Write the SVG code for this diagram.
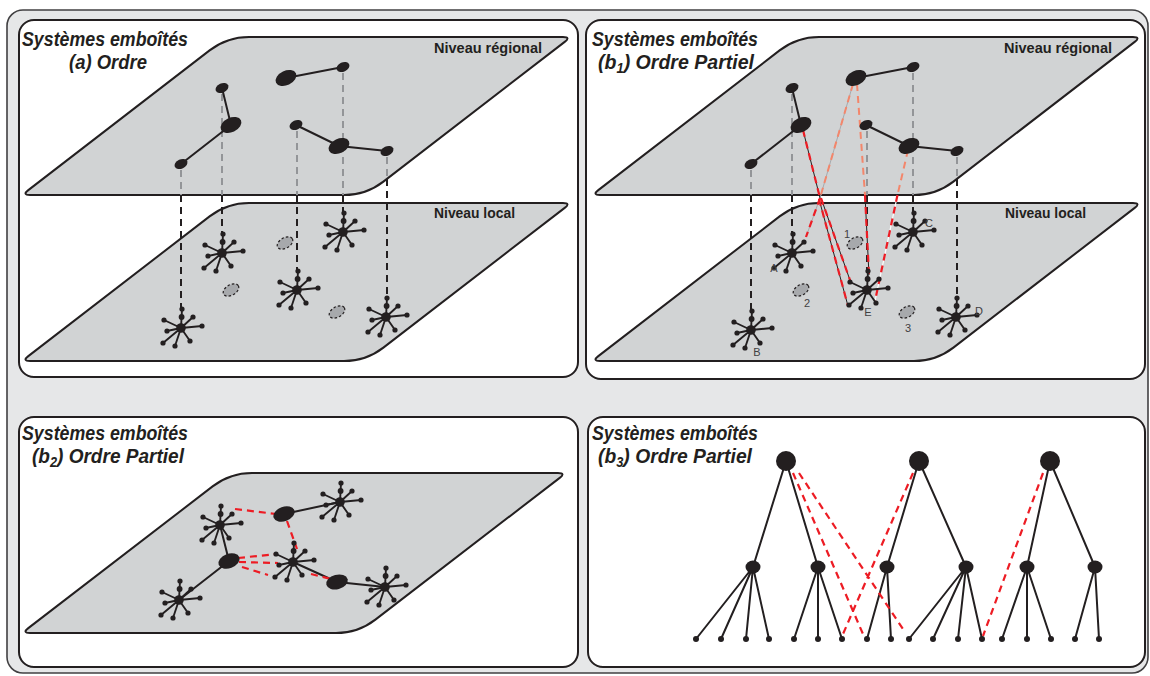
<svg xmlns="http://www.w3.org/2000/svg" width="1150" height="676" viewBox="0 0 1150 676">
<style>
.title{font-family:"Liberation Sans",Arial,sans-serif;font-weight:bold;font-style:italic;font-size:21px;fill:#231f20}
.lvl{font-family:"Liberation Sans",Arial,sans-serif;font-weight:bold;font-size:14px;fill:#231f20}
.lab{font-family:"Liberation Sans",Arial,sans-serif;font-size:11px;fill:#414042;text-anchor:middle}
.panel{fill:#fff;stroke:#231f20;stroke-width:2}
.plane{fill:#d1d3d4;stroke:#231f20;stroke-width:2;stroke-linejoin:round}
.edge{stroke:#231f20;stroke-width:2;fill:none;stroke-linecap:round}
.dk{stroke:#231f20;stroke-width:2;stroke-dasharray:7 5;fill:none}
.gr{stroke:#939598;stroke-width:2;stroke-dasharray:7 5;fill:none}
.red{stroke:#ed1c24;stroke-width:2.2;stroke-dasharray:7 5;fill:none}
.sal{stroke:#f3866b;stroke-width:2;stroke-dasharray:7 5;fill:none}
.thin{stroke:#231f20;stroke-width:1;fill:none}
.thing{stroke:#a7a9ac;stroke-width:1;fill:none}
.thinw{stroke:#fff;stroke-width:1.2;fill:none}
.node{fill:#231f20}
.empty{fill:#a7a9ac;stroke:#231f20;stroke-width:1.2;stroke-dasharray:2.5 2}
</style>
<defs>
<path id="plane" d="M8,158 Q0,158 6.3,153.1 L187.6,13.4 Q205,0 227,0 L541,0 Q549,0 542.7,4.9 L361.4,144.6 Q344,158 322,158 Z"/>
<path id="planeB" d="M8,160 Q0,160 6.3,155.1 L190.6,13.4 Q208,0 230,0 L536,0 Q544,0 537.7,4.9 L353.4,146.6 Q336,160 314,160 Z"/>
<g id="star" fill="#231f20">
<path d="M0,0L-17,-8M0,0L-14,3M0,0L-18,15M0,0L-6,18M0,0L9,13M0,0L21,-2M0,0L12,-11M0,0L1,-19" stroke="#231f20" stroke-width="1.9" fill="none"/>
<circle r="4.8"/>
<circle cx="-17" cy="-8" r="2.6"/><circle cx="-14" cy="3" r="2.6"/><circle cx="-18" cy="15" r="2.6"/><circle cx="-6" cy="18" r="2.6"/>
<circle cx="9" cy="13" r="2.6"/><circle cx="21" cy="-2" r="2.6"/><circle cx="12" cy="-11" r="2.6"/><circle cx="1" cy="-19" r="2.6"/>
<circle cx="0.6" cy="-11" r="2.9"/>
</g>
<ellipse id="sn" rx="6.8" ry="4.6" transform="rotate(-25)"/>
<ellipse id="bn" rx="11" ry="7.2" transform="rotate(-25)"/>
<ellipse id="ep" class="empty" rx="8.5" ry="5.2" transform="rotate(-30)"/>
</defs>

<rect x="7" y="10" width="1141" height="663" rx="16" fill="#e6e7e8" stroke="#414042" stroke-width="1.6"/>

<!-- panels -->
<g id="panel-a">
<rect class="panel" x="19" y="20" width="559" height="357" rx="15"/>
<use href="#plane" class="plane" transform="translate(22,203)"/>
<use href="#plane" class="plane" transform="translate(22,37)"/>
<text class="lvl" x="434" y="53" textLength="108" lengthAdjust="spacingAndGlyphs">Niveau régional</text>
<text class="lvl" x="434" y="218" textLength="81" lengthAdjust="spacingAndGlyphs">Niveau local</text>
<text class="title" x="22" y="46" textLength="166" lengthAdjust="spacingAndGlyphs">Systèmes emboîtés</text>
<text class="title" x="69" y="69" textLength="78" lengthAdjust="spacingAndGlyphs">(a) Ordre</text>
</g>
<g id="panel-b1">
<rect class="panel" x="586" y="20" width="559" height="359" rx="15"/>
<use href="#plane" class="plane" transform="translate(592,203)"/>
<use href="#plane" class="plane" transform="translate(592,37)"/>
<text class="lvl" x="1004" y="53" textLength="108" lengthAdjust="spacingAndGlyphs">Niveau régional</text>
<text class="lvl" x="1005" y="218" textLength="81" lengthAdjust="spacingAndGlyphs">Niveau local</text>
<text class="title" x="592" y="46" textLength="166" lengthAdjust="spacingAndGlyphs">Systèmes emboîtés</text>
<text class="title" x="598" y="69" textLength="156" lengthAdjust="spacingAndGlyphs">(b<tspan font-size="14" dy="4">1</tspan><tspan dy="-4">) Ordre Partiel</tspan></text>
</g>
<g id="panel-b2">
<rect class="panel" x="19" y="417" width="559" height="250" rx="15"/>
<use href="#planeB" class="plane" transform="translate(22,473)"/>
<text class="title" x="22" y="440" textLength="166" lengthAdjust="spacingAndGlyphs">Systèmes emboîtés</text>
<text class="title" x="32" y="463" textLength="152" lengthAdjust="spacingAndGlyphs">(b<tspan font-size="14" dy="4">2</tspan><tspan dy="-4">) Ordre Partiel</tspan></text>
</g>
<g id="panel-b3">
<rect class="panel" x="588" y="417" width="557" height="250" rx="15"/>
<text class="title" x="592" y="440" textLength="166" lengthAdjust="spacingAndGlyphs">Systèmes emboîtés</text>
<text class="title" x="598" y="463" textLength="154" lengthAdjust="spacingAndGlyphs">(b<tspan font-size="14" dy="4">3</tspan><tspan dy="-4">) Ordre Partiel</tspan></text>
</g>

<!-- connectors -->
<g id="connectors">
<!-- panel a -->
<path class="gr" d="M181,170V195M222,94V195M297,131V195M343,73V195M387,157V179"/>
<path class="dk" d="M181,195V309M222,195V234M297,195V271M343,195V213M387,179V298"/>
<path class="edge" d="M222,88L231,125M231,125L181,164M286,78L343,67M296,125L339,146M339,146L387,151"/>
<!-- panel b1 -->
<path class="gr" d="M751,170V195M792,94V195M867,131V195M913,73V195M957,157V179"/>
<path class="dk" d="M751,195V311M792,195V234M867,195V271M913,195V213M957,179V298"/>
<path class="edge" d="M792,88L801,125M801,125L751,164M856,78L913,67M866,125L909,146M909,146L957,151"/>
<path class="thing" d="M853,84L820,198M820,198L806,237"/>
<path class="sal" d="M853,84L820,198"/>
<path class="red" d="M820,198L806,237"/>
<path class="thin" d="M821,198L851,283M819,199L848,306M865,195L869,275"/>
<path class="red" d="M821,198L851,283M819,199L848,306"/>
<path class="sal" d="M857,84L865,195"/>
<path class="red" d="M865,195L869,275"/>
<path class="sal" d="M908,150L897.5,195"/>
<path class="thinw" d="M897.5,195L875,301"/>
<path class="red" d="M897.5,195L875,301"/>
<path class="thin" d="M803,130L820,198"/>
<path class="red" stroke-width="2.6" d="M803,130L820,198"/>
<!-- panel b2 -->
<path class="edge" d="M284,514L340,502M220,525L229,561M229,561L179,600M293,562L337,582M337,582L385,587"/>
<path class="red" stroke-dasharray="7 4" d="M235,509L276,514M287,521L297,549M238,558L277,554M239,562L278,563M242,567L268,575M311,574L331,579"/>
<!-- panel b3 -->
<path class="edge" d="M786,461L753,567M786,461L818,567M919,461L887,567M919,461L966,567M1050,461L1027,567M1050,461L1095,567
M753,567L696,639M753,567L721,639M753,567L746,639M753,567L769,639
M818,567L794,639M818,567L818,639M818,567L842,639
M887,567L867,639M887,567L891,639
M966,567L909,639M966,567L933,639M966,567L958,639M966,567L982,639
M1027,567L1002,639M1027,567L1027,639M1027,567L1051,639
M1095,567L1075,639M1095,567L1099,639"/>
<path class="red" stroke-dasharray="8 5" d="M793,473L863,634M799,473L905,632M913,473L843,634M1043,473L983,636"/>
</g>

<!-- panel a nodes -->
<g id="a-r1" class="node"><use href="#sn" x="222" y="88"/></g>
<g id="a-r2" class="node"><use href="#bn" x="231" y="125"/></g>
<g id="a-r3" class="node"><use href="#sn" x="181" y="164"/></g>
<g id="a-r4" class="node"><use href="#bn" x="286" y="78"/></g>
<g id="a-r5" class="node"><use href="#sn" x="343" y="67"/></g>
<g id="a-r6" class="node"><use href="#sn" x="296" y="125"/></g>
<g id="a-r7" class="node"><use href="#bn" x="339" y="146"/></g>
<g id="a-r8" class="node"><use href="#sn" x="387" y="151"/></g>
<g id="a-l1"><use href="#star" x="181" y="328"/></g>
<g id="a-l2"><use href="#star" x="222" y="253"/></g>
<g id="a-l3"><use href="#star" x="297" y="290"/></g>
<g id="a-l4"><use href="#star" x="343" y="232"/></g>
<g id="a-l5"><use href="#star" x="386" y="317"/></g>
<g id="a-e1"><use href="#ep" x="285" y="243"/></g>
<g id="a-e2"><use href="#ep" x="231" y="290"/></g>
<g id="a-e3"><use href="#ep" x="337" y="312"/></g>

<!-- panel b1 nodes -->
<g id="b1-r1" class="node"><use href="#sn" x="792" y="88"/></g>
<g id="b1-r2" class="node"><use href="#bn" x="801" y="125"/></g>
<g id="b1-r3" class="node"><use href="#sn" x="751" y="164"/></g>
<g id="b1-r4" class="node"><use href="#bn" x="856" y="78"/></g>
<g id="b1-r5" class="node"><use href="#sn" x="913" y="67"/></g>
<g id="b1-r6" class="node"><use href="#sn" x="866" y="125"/></g>
<g id="b1-r7" class="node"><use href="#bn" x="909" y="146"/></g>
<g id="b1-r8" class="node"><use href="#sn" x="957" y="151"/></g>
<g id="b1-A"><use href="#star" x="792" y="253"/><text class="lab" x="774" y="272">A</text></g>
<g id="b1-B"><use href="#star" x="751" y="330"/><text class="lab" x="757" y="356">B</text></g>
<g id="b1-C"><use href="#star" x="913" y="232"/><text class="lab" x="929" y="227">C</text></g>
<g id="b1-D"><use href="#star" x="956" y="317"/><text class="lab" x="979" y="315">D</text></g>
<g id="b1-E"><use href="#star" x="867" y="290"/><text class="lab" x="868" y="316">E</text></g>
<g id="b1-p1"><use href="#ep" x="855" y="243"/><text class="lab" x="847" y="238">1</text></g>
<g id="b1-p2"><use href="#ep" x="801" y="290"/><text class="lab" x="807" y="307">2</text></g>
<g id="b1-p3"><use href="#ep" x="907" y="312"/><text class="lab" x="908" y="332">3</text></g>

<!-- panel b2 nodes -->
<g id="b2-s1"><use href="#star" x="220" y="525"/></g>
<g id="b2-s2"><use href="#star" x="340" y="502"/></g>
<g id="b2-s3"><use href="#star" x="293" y="562"/></g>
<g id="b2-s4"><use href="#star" x="179" y="600"/></g>
<g id="b2-s5"><use href="#star" x="385" y="587"/></g>
<g id="b2-e1" class="node"><ellipse rx="11" ry="7.2" transform="translate(284,514) rotate(-20)"/></g>
<g id="b2-e2" class="node"><ellipse rx="11" ry="7.2" transform="translate(229,561) rotate(-20)"/></g>
<g id="b2-e3" class="node"><ellipse rx="11" ry="7.2" transform="translate(337,582) rotate(-15)"/></g>

<!-- panel b3 nodes -->
<g id="b3-roots" class="node"><circle id="b3-t1" cx="786" cy="461" r="10"/><circle id="b3-t2" cx="919" cy="461" r="10"/><circle id="b3-t3" cx="1050" cy="461" r="10"/></g>
<g id="b3-mids" class="node">
<ellipse cx="753" cy="567" rx="7.5" ry="6.5"/><ellipse cx="818" cy="567" rx="7.5" ry="6.5"/><ellipse cx="887" cy="567" rx="7.5" ry="6.5"/>
<ellipse cx="966" cy="567" rx="7.5" ry="6.5"/><ellipse cx="1027" cy="567" rx="7.5" ry="6.5"/><ellipse cx="1095" cy="567" rx="7.5" ry="6.5"/>
</g>
<g id="b3-leaves" class="node">
<circle cx="696" cy="639" r="3"/><circle cx="721" cy="639" r="3"/><circle cx="746" cy="639" r="3"/><circle cx="769" cy="639" r="3"/>
<circle cx="794" cy="639" r="3"/><circle cx="818" cy="639" r="3"/><circle cx="842" cy="639" r="3"/>
<circle cx="867" cy="639" r="3"/><circle cx="891" cy="639" r="3"/>
<circle cx="909" cy="639" r="3"/><circle cx="933" cy="639" r="3"/><circle cx="958" cy="639" r="3"/><circle cx="982" cy="639" r="3"/>
<circle cx="1002" cy="639" r="3"/><circle cx="1027" cy="639" r="3"/><circle cx="1051" cy="639" r="3"/>
<circle cx="1075" cy="639" r="3"/><circle cx="1099" cy="639" r="3"/>
</g>
</svg>
